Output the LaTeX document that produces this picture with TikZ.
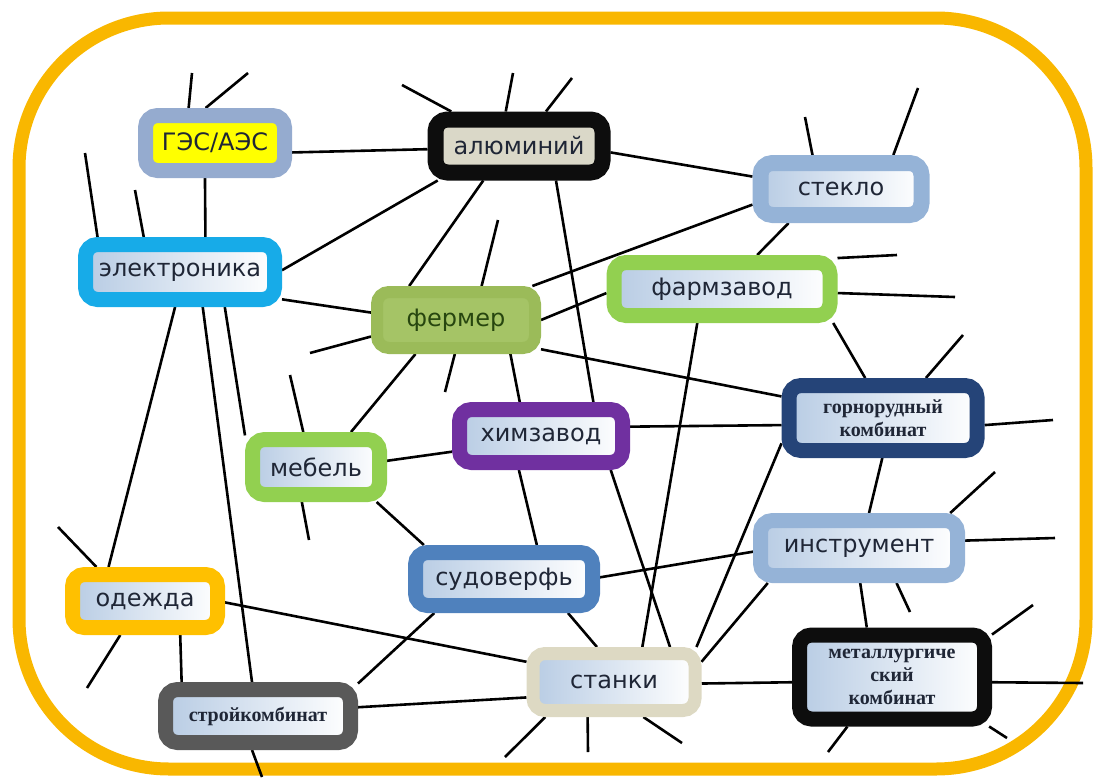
\documentclass[tikz,border=0pt]{standalone}
\usepackage{fontspec}
\setmainfont{DejaVu Sans}
\newfontfamily\serifcyr{Liberation Serif}
\usepackage{tikz}
\usetikzlibrary{backgrounds}
\definecolor{framey}{HTML}{F9B700}
\definecolor{inblue}{HTML}{B8CCE4}
\definecolor{txt}{HTML}{1F2636}
\definecolor{gresb}{HTML}{95ABCF}
\definecolor{gresfill}{HTML}{FFFF00}
\definecolor{elecb}{HTML}{17ABE8}
\definecolor{alub}{HTML}{0D0D0D}
\definecolor{alufill}{HTML}{DAD8C8}
\definecolor{steklob}{HTML}{95B3D7}
\definecolor{greenb}{HTML}{92D050}
\definecolor{fermb}{HTML}{9BBB59}
\definecolor{fermfill}{HTML}{A5C466}
\definecolor{fermtxt}{HTML}{27460F}
\definecolor{chemb}{HTML}{7030A0}
\definecolor{sudob}{HTML}{4F81BD}
\definecolor{gornob}{HTML}{254478}
\definecolor{stankib}{HTML}{DDD9C3}
\definecolor{odezb}{HTML}{FFC000}
\definecolor{stroyb}{HTML}{595959}

\begin{document}
\begin{tikzpicture}[x=0.5pt,y=-0.5pt,
    base/.style={draw=#1,line width=7.5pt,rounded corners=6pt,inner sep=0pt,text=txt,
      font=\fontsize{12}{14}\selectfont},
    box/.style={base=#1,left color=inblue,right color=white},
    sbox/.style={box=#1,align=center,font=\serifcyr\bfseries\fontsize{10}{11.5}\selectfont},
    link/.style={line width=1.3pt,black}]
  \useasboundingbox (0,0) rectangle (1093,777);

  \node (gres) [base=gresb,fill=gresfill,minimum width=69.5pt,minimum height=27.5pt] at (215,143) {ГЭС/АЭС};
  \node (elec) [box=elecb,minimum width=94.5pt,minimum height=27.5pt] at (180,272) {электроника};
  \node (alu) [base=alub,line width=8pt,fill=alufill,minimum width=83.5pt,minimum height=26.5pt] at (519,146) {алюминий};
  \node (steklo) [box=steklob,line width=8pt,minimum width=80.5pt,minimum height=26pt] at (841,189) {стекло};
  \node (farm) [box=greenb,minimum width=108pt,minimum height=26.5pt] at (722,289) {фармзавод};
  \node (fermer) [base=fermb,line width=6pt,fill=fermfill,text=fermtxt,minimum width=79pt,minimum height=28pt] at (456,320) {фермер};
  \node (chem) [box=chemb,minimum width=81.5pt,minimum height=26.5pt] at (541,436) {химзавод};
  \node (mebel) [box=greenb,minimum width=63.5pt,minimum height=27.5pt] at (316,467) {мебель};
  \node (sudo) [box=sudob,minimum width=88.5pt,minimum height=26.5pt] at (504,579) {судоверфь};
  \node (gorno) [sbox=gornob,minimum width=94pt,minimum height=32.5pt] at (883,418) {горнорудный\\комбинат};
  \node (instr) [box=steklob,minimum width=98.5pt,minimum height=27.5pt] at (859,548) {инструмент};
  \node (metal) [sbox=alub,minimum width=92.5pt,minimum height=42pt] at (892,677) {металлургиче\\ский\\комбинат};
  \node (stanki) [box=stankib,line width=6.5pt,minimum width=81pt,minimum height=28.5pt] at (614,682) {станки};
  \node (odezhda) [box=odezb,minimum width=72.5pt,minimum height=26.5pt] at (145,601) {одежда};
  \node (stroy) [sbox=stroyb,minimum width=92.5pt,minimum height=26.5pt] at (258,716) {стройкомбинат};

  \coordinate (g1) at (192,73);   \coordinate (g2) at (248,73);
  \coordinate (e1) at (85,153);   \coordinate (e2) at (135,190);
  \coordinate (a1) at (402,85);   \coordinate (a2) at (513,73);   \coordinate (a3) at (572,78);
  \coordinate (s1) at (805,117);  \coordinate (s2) at (918,88);
  \coordinate (f1) at (897,255);  \coordinate (f2) at (955,297);
  \coordinate (fe1) at (498,220); \coordinate (fe2) at (310,353); \coordinate (fe3) at (445,392);
  \coordinate (m1) at (290,375);  \coordinate (m2) at (309,540);
  \coordinate (go1) at (963,335); \coordinate (go2) at (1053,420);
  \coordinate (i1) at (995,472);  \coordinate (i2) at (1055,538); \coordinate (i3) at (910,612);
  \coordinate (me1) at (1033,605); \coordinate (me2) at (1083,683);
  \coordinate (me3) at (828,752); \coordinate (me4) at (1007,738);
  \coordinate (st1) at (505,757); \coordinate (st2) at (588,752); \coordinate (st3) at (682,743);
  \coordinate (sr1) at (262,777);
  \coordinate (o1) at (58,527);   \coordinate (o2) at (87,688);

  \begin{scope}[on background layer]
    \draw[framey,line width=6.5pt,rounded corners=75pt] (19,18) rectangle (1086,769);
    \path[link]
      (gres.-7) edge (alu.182)
      (gres.-106) edge (elec.54)
      (alu.203) edge (elec.1)
      (alu.224) edge (fermer.144)
      (alu.-43) edge (chem.33)
      (alu.-4) edge (steklo.172)
      (steklo.190) edge (fermer.24)
      (steklo.213) edge (farm.44)
      (farm.182) edge (fermer.0)
      (farm.-17) edge (gorno.114)
      (farm.234) edge (stanki.51)
      (fermer.-19) edge (gorno.168)
      (fermer.-32) edge (chem.122)
      (fermer.220) edge (mebel.45)
      (elec.-15) edge (fermer.175)
      (elec.-98) edge (odezhda.137)
      (elec.-57) edge (stroy.100)
      (elec.-38) edge (mebel.156)
      (mebel.5) edge (chem.190)
      (mebel.-30) edge (sudo.157)
      (chem.237) edge (sudo.46)
      (chem.6) edge (gorno.184)
      (chem.-26) edge (stanki.32)
      (gorno.269) edge (instr.74)
      (gorno.194) edge (stanki.23)
      (instr.182) edge (sudo.1)
      (instr.201) edge (stanki.13)
      (instr.-88) edge (metal.117)
      (stanki.-1) edge (metal.183)
      (sudo.-28) edge (stanki.116)
      (sudo.206) edge (stroy.18)
      (odezhda.-1) edge (stanki.167)
      (stroy.5) edge (stanki.190)
      (odezhda.-44) edge (stroy.156);
    \path[link]
      (gres.127) edge (g1)
      (gres.105) edge (g2)
      (elec.157) edge (e1)
      (elec.136) edge (e2)
      (alu.153) edge (a1)
      (alu.111) edge (a2)
      (alu.52) edge (a3)
      (steklo.130) edge (s1)
      (steklo.33) edge (s2)
      (farm.15) edge (f1)
      (farm.-2) edge (f2)
      (fermer.53) edge (fe1)
      (fermer.191) edge (fe2)
      (fermer.268) edge (fe3)
      (mebel.110) edge (m1)
      (mebel.248) edge (m2)
      (gorno.43) edge (go1)
      (gorno.-4) edge (go2)
      (instr.21) edge (i1)
      (instr.4) edge (i2)
      (instr.-43) edge (i3)
      (metal.23) edge (me1)
      (metal.-3) edge (me2)
      (metal.228) edge (me3)
      (metal.-27) edge (me4)
      (stanki.207) edge (st1)
      (stanki.233) edge (st2)
      (stanki.-50) edge (st3)
      (stroy.260) edge (sr1)
      (odezhda.145) edge (o1)
      (odezhda.234) edge (o2);
  \end{scope}
\end{tikzpicture}
\end{document}
